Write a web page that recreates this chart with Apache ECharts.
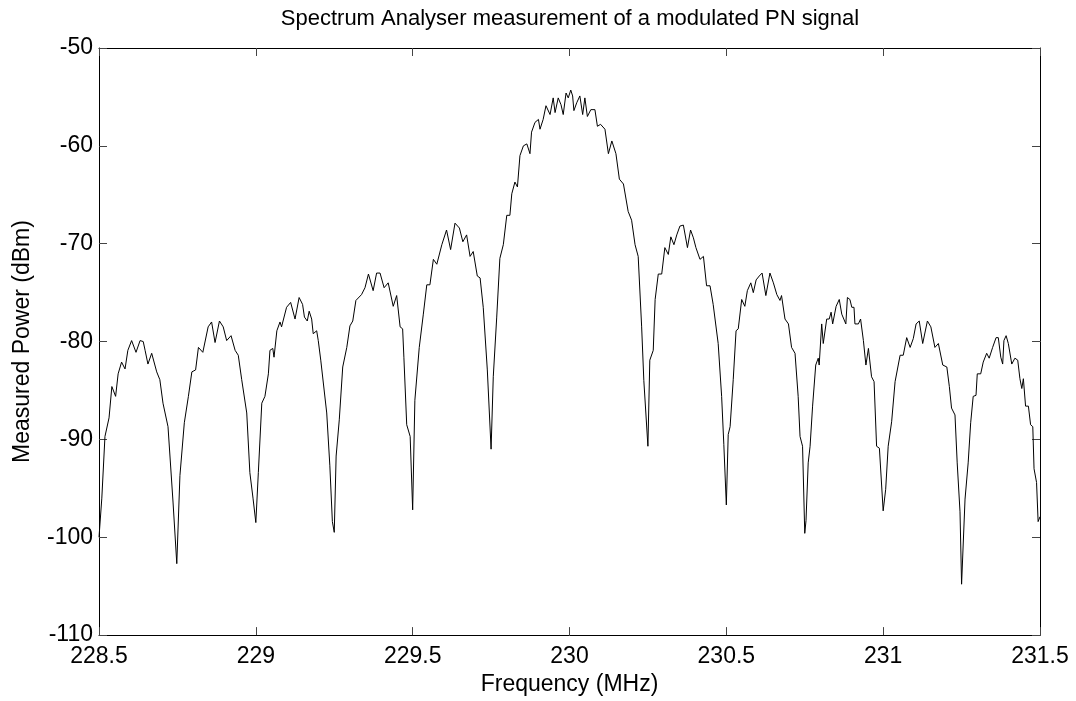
<!DOCTYPE html>
<html>
<head>
<meta charset="utf-8">
<script src="https://cdn.jsdelivr.net/npm/echarts@6/dist/echarts.min.js"></script>
<style>
html,body{margin:0;padding:0;background:#fff;}
#chart{width:1076px;height:701px;}
</style>
</head>
<body>
<div id="chart"></div>
<script>
// Frequency samples (MHz)
const freqMHz = [
228.500,228.509,228.519,228.532,228.541,228.553,228.561,228.572,228.583,228.592,
228.604,228.618,228.631,228.641,228.647,228.656,228.668,228.684,228.694,228.704,
228.720,228.736,228.748,228.758,228.772,228.785,228.796,228.808,228.817,
228.831,228.848,228.859,228.870,228.884,228.896,228.907,228.921,228.934,228.944,
228.955,228.971,228.981,228.991,229.000,229.008,229.019,
229.029,229.040,229.045,229.054,229.058,229.067,229.077,229.082,229.098,229.111,
229.125,229.138,229.149,229.155,229.164,229.170,229.178,229.183,229.194,229.199,
229.207,229.213,229.226,229.236,229.244,229.250,229.256,229.266,
229.277,229.290,229.300,229.309,229.319,229.337,229.348,229.359,229.374,229.385,
229.396,229.409,229.422,229.438,229.449,229.460,229.468,229.472,229.481,229.492,
229.500,229.507,
229.521,229.534,229.545,229.555,229.566,229.577,229.593,229.608,229.621,229.635,
229.649,229.660,229.672,229.683,229.693,229.706,229.715,229.725,229.738,229.750,
229.757,229.768,229.778,229.789,229.800,229.810,229.816,229.826,229.834,229.842,
229.853,229.864,229.874,229.879,229.890,229.901,229.906,229.916,229.925,229.938,
229.948,229.954,229.964,229.973,229.980,229.989,229.996,230.004,230.010,230.014,
230.023,230.033,230.042,230.049,230.057,230.068,230.081,230.089,230.099,230.113,
230.124,230.135,230.148,230.159,230.172,230.187,230.198,230.209,230.219,230.230,
230.237,230.250,
230.256,230.267,230.273,230.283,230.294,230.304,230.315,230.323,230.333,230.342,
230.352,230.363,230.376,230.386,230.395,230.403,230.416,230.427,230.437,230.448,
230.458,230.474,230.485,230.492,230.500,
230.506,230.512,230.522,230.531,230.538,230.549,230.559,230.567,230.578,230.586,
230.595,230.605,230.614,230.626,230.639,230.650,230.661,230.671,230.676,230.687,
230.698,230.708,230.719,230.729,230.735,230.743,230.750,
230.754,230.761,230.767,230.775,230.785,230.793,230.796,230.804,230.809,230.820,
230.828,230.834,230.839,230.850,230.860,230.868,230.881,230.886,230.894,230.900,
230.907,230.910,230.921,230.928,230.937,230.945,230.953,230.963,230.971,230.979,
230.988,231.000,
231.008,231.016,231.027,231.038,231.054,231.064,231.075,231.086,231.096,231.105,
231.115,231.126,231.141,231.152,231.165,231.176,231.190,231.203,231.211,231.218,
231.229,231.236,231.245,231.250,
231.261,231.271,231.279,231.287,231.296,231.300,231.311,231.319,231.330,231.338,
231.349,231.360,231.367,231.375,231.381,231.385,231.392,231.399,231.404,231.410,
231.420,231.429,231.436,231.442,231.447,231.454,231.463,231.470,231.477,231.481,
231.489,231.494,231.500
];

// Measured power (dBm) at each frequency sample
const powerDbm = [
-100.0,-96.0,-89.7,-87.8,-84.6,-85.6,-83.3,-82.1,-82.8,-80.9,
-79.9,-81.1,-79.9,-80.0,-80.9,-82.3,-81.2,-83.1,-83.9,-86.3,
-88.7,-96.4,-102.7,-93.7,-88.3,-85.6,-83.1,-82.9,-80.6,
-81.1,-78.5,-78.0,-80.1,-77.9,-78.5,-79.9,-79.4,-80.9,-81.4,
-83.9,-87.3,-93.4,-96.0,-98.5,-93.4,-86.3,
-85.6,-83.3,-80.9,-80.7,-81.6,-78.9,-78.0,-78.5,-76.5,-76.0,
-77.7,-75.5,-76.2,-77.5,-77.9,-76.9,-77.7,-79.2,-78.9,-79.9,
-81.9,-81.7,-87.3,-92.7,-98.4,-99.5,-91.7,-88.0,
-82.6,-80.6,-78.4,-77.9,-75.8,-75.2,-74.5,-73.1,-74.8,-73.0,
-73.0,-74.5,-74.0,-76.4,-75.3,-78.5,-78.7,-81.6,-88.5,-89.7,
-97.2,-86.0,
-80.6,-77.2,-74.2,-74.2,-71.6,-72.1,-70.1,-68.6,-70.6,-67.9,
-68.4,-69.8,-69.1,-71.3,-70.8,-73.3,-73.5,-76.5,-82.9,-91.0,
-83.6,-77.5,-71.5,-70.1,-67.1,-67.1,-64.9,-63.7,-64.2,-61.0,
-60.0,-59.8,-60.8,-58.6,-57.6,-57.3,-58.3,-57.3,-55.9,-56.8,
-55.1,-56.6,-55.1,-55.8,-56.8,-54.6,-55.1,-54.3,-54.9,-56.4,
-55.6,-54.9,-56.8,-55.1,-57.0,-56.3,-56.3,-58.0,-57.8,-58.3,
-60.8,-59.5,-60.8,-63.4,-63.9,-66.7,-67.6,-70.1,-71.3,-78.5,
-84.0,-90.7,
-81.9,-80.9,-75.7,-73.1,-73.1,-70.4,-71.1,-69.3,-70.1,-69.1,
-68.2,-68.1,-70.4,-68.6,-69.4,-70.4,-71.6,-71.3,-74.3,-74.3,
-76.2,-80.2,-85.6,-90.5,-96.7,
-89.5,-88.7,-83.9,-78.9,-78.7,-75.7,-76.4,-74.8,-74.0,-75.0,
-73.7,-73.3,-73.0,-75.3,-73.0,-74.0,-75.2,-75.8,-75.3,-77.7,
-78.2,-80.6,-81.2,-85.6,-89.7,-90.7,-99.6,
-98.3,-92.4,-90.7,-86.6,-82.4,-81.7,-82.4,-78.2,-80.2,-77.7,
-77.7,-77.0,-78.2,-76.4,-75.7,-77.2,-78.2,-75.5,-75.7,-76.5,
-76.5,-78.2,-78.2,-77.7,-79.9,-82.4,-80.7,-83.6,-84.1,-90.7,
-90.9,-97.3,
-95.1,-90.7,-88.2,-84.1,-81.4,-81.4,-79.6,-80.6,-79.7,-78.2,
-77.9,-80.2,-77.9,-78.5,-80.6,-80.2,-82.4,-82.6,-84.6,-86.8,
-87.5,-92.4,-97.4,-104.8,
-96.1,-92.4,-88.3,-85.6,-85.5,-83.3,-83.3,-82.1,-81.2,-81.7,
-80.6,-79.6,-79.6,-81.6,-82.3,-79.9,-79.4,-80.2,-80.2,-82.3,
-81.7,-81.9,-83.8,-84.8,-83.8,-86.6,-86.6,-88.5,-88.7,-93.0,
-94.4,-98.4,-97.9
];

const xTicks = [228.5, 229, 229.5, 230, 230.5, 231, 231.5];
const yTicks = [-110, -100, -90, -80, -70, -60, -50];

const titleText = 'Spectrum Analyser measurement of a modulated PN signal';
const xLabel = 'Frequency (MHz)';
const yLabel = 'Measured Power (dBm)';

const seriesData = freqMHz.map((f, i) => [f, powerDbm[i]]);

const FONT = '"Liberation Sans", Arial, Helvetica, sans-serif';
const FS = 23;
const chart = echarts.init(document.getElementById('chart'), null, {renderer: 'canvas'});

const tickCommon = {show: true, inside: true, length: 8, lineStyle: {color: '#444', width: 1}};
const lineCommon = {show: true, onZero: false, lineStyle: {color: '#000', width: 1}};

chart.setOption({
  animation: false,
  backgroundColor: '#fff',
  title: {
    text: titleText,
    left: 570,
    textAlign: 'center',
    top: 8,
    padding: 0,
    textStyle: {fontFamily: FONT, fontSize: 22, fontWeight: 'normal', color: '#000'}
  },
  grid: {left: 99, top: 48, right: 36, bottom: 60, containLabel: false},
  xAxis: [{
    type: 'value',
    min: xTicks[0],
    max: xTicks[xTicks.length - 1],
    interval: 0.5,
    position: 'bottom',
    name: xLabel,
    nameLocation: 'middle',
    nameGap: 37,
    nameTextStyle: {fontFamily: FONT, fontSize: FS, color: '#000'},
    axisLine: lineCommon,
    axisTick: tickCommon,
    axisLabel: {fontFamily: FONT, fontSize: FS, color: '#000', margin: 10,
      formatter: v => String(parseFloat(v.toFixed(1)))},
    splitLine: {show: false}
  }, {
    type: 'value',
    min: xTicks[0],
    max: xTicks[xTicks.length - 1],
    interval: 0.5,
    position: 'top',
    axisLine: lineCommon,
    axisTick: tickCommon,
    axisLabel: {show: false},
    splitLine: {show: false}
  }],
  yAxis: [{
    type: 'value',
    min: yTicks[0],
    max: yTicks[yTicks.length - 1],
    interval: 10,
    position: 'left',
    name: yLabel,
    nameLocation: 'middle',
    nameGap: 65,
    nameTextStyle: {fontFamily: FONT, fontSize: FS, color: '#000'},
    axisLine: lineCommon,
    axisTick: tickCommon,
    axisLabel: {fontFamily: FONT, fontSize: FS, color: '#000', margin: 6},
    splitLine: {show: false}
  }, {
    type: 'value',
    min: yTicks[0],
    max: yTicks[yTicks.length - 1],
    interval: 10,
    position: 'right',
    axisLine: lineCommon,
    axisTick: tickCommon,
    axisLabel: {show: false},
    splitLine: {show: false}
  }],
  series: [{
    type: 'line',
    xAxisIndex: 0,
    yAxisIndex: 0,
    data: seriesData,
    showSymbol: false,
    symbol: 'none',
    lineStyle: {color: '#000', width: 1},
    clip: true
  }]
});
</script>
</body>
</html>
